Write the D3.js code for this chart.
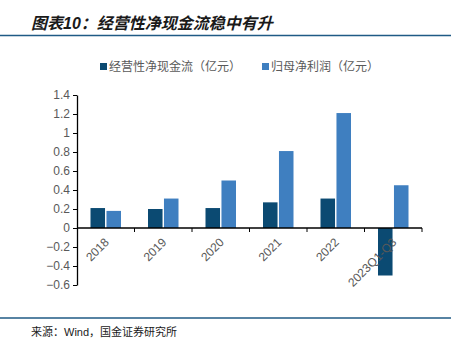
<!DOCTYPE html>
<html>
<head>
<meta charset="utf-8">
<script src="https://cdn.jsdelivr.net/npm/d3@7"></script>
<style>
  body { margin: 0; background: #fff; }
  text { font-family: "Liberation Sans", Arial, "Noto Sans CJK SC", sans-serif; }
</style>
</head>
<body>
<div id="chart"></div>
<script>
const categories = ["2018", "2019", "2020", "2021", "2022", "2023Q1-Q3"];
const cashFlow = [0.21, 0.20, 0.21, 0.27, 0.31, -0.50];
const netProfit = [0.18, 0.31, 0.50, 0.81, 1.21, 0.45];
const seriesNames = ["经营性净现金流（亿元）", "归母净利润（亿元）"];
const yTicks = [-0.6, -0.4, -0.2, 0, 0.2, 0.4, 0.6, 0.8, 1, 1.2, 1.4];

const width = 459, height = 349;
const colors = ["#0b4a72", "#3f7fc0"];

const svg = d3.select("#chart").append("svg")
  .attr("width", width).attr("height", height);

// title
svg.append("text")
  .attr("x", 31).attr("y", 29)
  .attr("font-family", "'Noto Sans CJK SC'")
  .attr("font-size", 16).attr("font-weight", "bold").attr("font-style", "italic")
  .attr("fill", "#1a1a1a")
  .text("图表10：经营性净现金流稳中有升");

svg.append("line").attr("x1", 0).attr("x2", 451).attr("y1", 35.5).attr("y2", 35.5)
  .attr("stroke", "#1f5a85").attr("stroke-width", 1.5);
svg.append("line").attr("x1", 0).attr("x2", 451).attr("y1", 318).attr("y2", 318)
  .attr("stroke", "#1f5a85").attr("stroke-width", 1.5);

svg.append("text")
  .attr("x", 31).attr("y", 336)
  .attr("font-family", "'Noto Sans CJK SC'")
  .attr("font-size", 11).attr("fill", "#1a1a1a")
  .text("来源：Wind，国金证券研究所");

// scales
const x = d3.scaleBand().domain(categories).range([77, 422]);
const inner = d3.scaleBand().domain([0, 1]).range([13.5, x.bandwidth() - 13.5]).paddingInner(0.09);
const y = d3.scaleLinear().domain([-0.6, 1.4]).range([285, 95]);

// legend
const legend = svg.append("g");
[[100, 0], [262, 1]].forEach(([lx, i]) => {
  legend.append("rect").attr("x", lx).attr("y", 63).attr("width", 7).attr("height", 7)
    .attr("fill", colors[i]);
  legend.append("text").attr("x", lx + 9).attr("y", 71)
    .attr("font-family", "'Noto Sans CJK SC'")
    .attr("font-size", 12).attr("fill", "#595959")
    .text(seriesNames[i]);
});

// bars
const series = [cashFlow, netProfit];
series.forEach((vals, si) => {
  svg.append("g").selectAll("rect").data(vals).enter().append("rect")
    .attr("x", (d, i) => x(categories[i]) + inner(si))
    .attr("width", inner.bandwidth())
    .attr("y", d => y(Math.max(0, d)))
    .attr("height", d => Math.abs(y(d) - y(0)))
    .attr("fill", colors[si]);
});

// y axis
const yAxis = svg.append("g").attr("transform", "translate(77,0)")
  .call(d3.axisLeft(y).tickValues(yTicks).tickSize(4).tickSizeOuter(0)
    .tickFormat(d => d3.format("")(+d.toFixed(1))));
yAxis.select(".domain").attr("stroke", "#000").attr("stroke-width", 1.3);
yAxis.selectAll(".tick line").attr("stroke", "#000");
yAxis.selectAll(".tick text").attr("fill", "#595959").attr("font-size", 12).attr("x", -7);

// x axis at zero
const xAxis = svg.append("g").attr("transform", `translate(0,${y(0)})`);
xAxis.append("line").attr("x1", 77).attr("x2", 422).attr("stroke", "#000").attr("stroke-width", 1.3);
xAxis.selectAll("line.tk").data(categories.slice(1).concat(["end"])).enter().append("line")
  .attr("class", "tk")
  .attr("x1", (d, i) => 77 + (i + 1) * x.step()).attr("x2", (d, i) => 77 + (i + 1) * x.step())
  .attr("y1", 0).attr("y2", 4).attr("stroke", "#000");
xAxis.selectAll("text").data(categories).enter().append("text")
  .attr("transform", d => `translate(${x(d) + x.bandwidth() / 2 - 2},${9}) rotate(-45)`)
  .attr("text-anchor", "end").attr("dy", "0.71em")
  .attr("font-size", 12).attr("fill", "#595959")
  .text(d => d);
</script>
</body>
</html>
